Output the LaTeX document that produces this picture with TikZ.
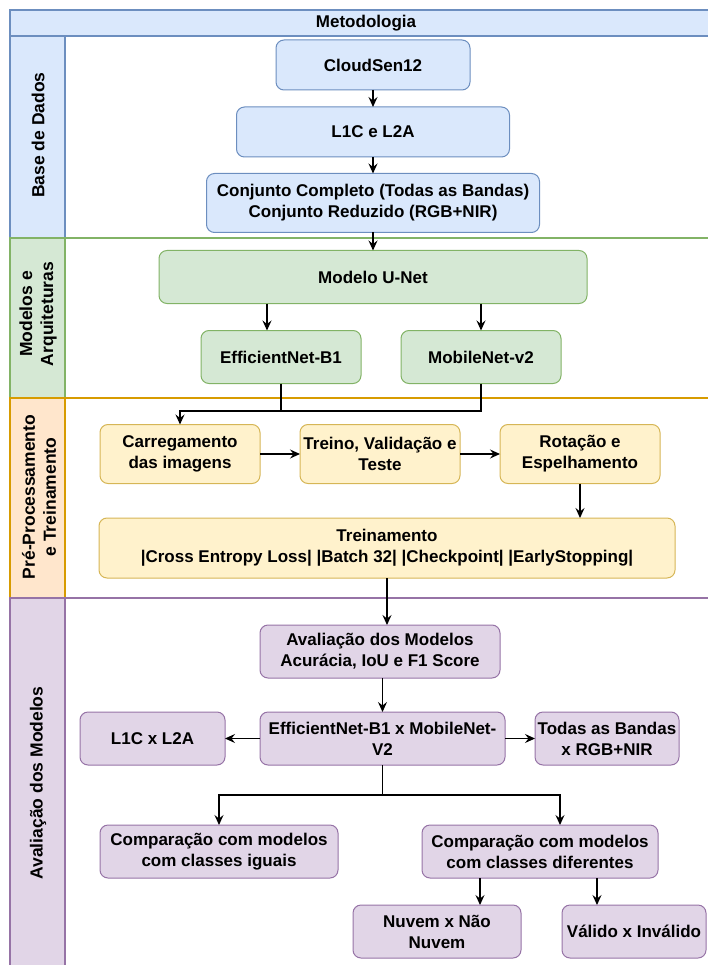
\documentclass[tikz,border=0pt]{standalone}
\usepackage{fontspec}
\setmainfont{Liberation Sans}
\usetikzlibrary{arrows.meta, positioning, calc}
\definecolor{lnblue}{HTML}{DAE8FC}
\definecolor{bdblue}{HTML}{6C8EBF}
\definecolor{lngreen}{HTML}{D5E8D4}
\definecolor{bdgreen}{HTML}{82B366}
\definecolor{lnorange}{HTML}{FFE6CC}
\definecolor{bdorange}{HTML}{D79B00}
\definecolor{bxyellow}{HTML}{FFF2CC}
\definecolor{bdyellow}{HTML}{D6B656}
\definecolor{lnpurple}{HTML}{E1D5E7}
\definecolor{bdpurple}{HTML}{9673A6}

\begin{document}
\begin{tikzpicture}[
    x=1pt, y=-1pt,
    font=\fontsize{17}{21}\selectfont\bfseries,
    box/.style={draw, rounded corners=8pt, line width=1pt, inner sep=0pt,
                outer sep=0pt, align=center},
    blubox/.style={box, fill=lnblue, draw=bdblue},
    grnbox/.style={box, fill=lngreen, draw=bdgreen},
    ylwbox/.style={box, fill=bxyellow, draw=bdyellow},
    prpbox/.style={box, fill=lnpurple, draw=bdpurple},
    lane/.style={line width=1.2pt},
    lanetxt/.style={rotate=90, align=center, font=\fontsize{17.5}{21}\selectfont\bfseries},
    arr/.style={-{Stealth[length=10pt, width=9pt, inset=3.5pt]}, line width=1.2pt}
]
    \useasboundingbox (0,0) rectangle (708,965);

    % lanes
    \draw[lane, draw=bdblue, fill=lnblue] (10,10) rectangle (720,36);
    \node (title) at (366,23) {Metodologia};
    \draw[lane, draw=bdblue] (65,36) rectangle (720,238);
    \draw[lane, draw=bdblue, fill=lnblue] (10,36) rectangle (65,238);
    \draw[lane, draw=bdgreen] (65,238) rectangle (720,398);
    \draw[lane, draw=bdgreen, fill=lngreen] (10,238) rectangle (65,398);
    \draw[lane, draw=bdorange] (65,398) rectangle (720,598);
    \draw[lane, draw=bdorange, fill=lnorange] (10,398) rectangle (65,598);
    \draw[lane, draw=bdpurple] (65,598) rectangle (720,975);
    \draw[lane, draw=bdpurple, fill=lnpurple] (10,598) rectangle (65,975);
    \node[lanetxt] (ldados) at (38,135) {Base de Dados};
    \node[lanetxt] (lmodelos) at (38,314) {Modelos e\\Arquiteturas};
    \node[lanetxt] (lpre) at (39,497) {Pré-Processamento\\e Treinamento};
    \node[lanetxt] (laval) at (38,783) {Avaliação dos Modelos};

    % base de dados
    \node[blubox, minimum width=194, minimum height=50] (cloud) at (373,65) {CloudSen12};
    \node[blubox, minimum width=273, minimum height=50] (l1c) at (373,132) {L1C e L2A};
    \node[blubox, minimum width=333, minimum height=59] (conj) at (373,203)
        {Conjunto Completo (Todas as Bandas)\\Conjunto Reduzido (RGB+NIR)};

    % modelos
    \node[grnbox, minimum width=428, minimum height=53] (unet) at (373,277) {Modelo U-Net};
    \node[grnbox, minimum width=160, minimum height=53] (effb1) at (281,357) {EfficientNet-B1};
    \node[grnbox, minimum width=160, minimum height=53, right=40 of effb1] (mobv2) {MobileNet-v2};

    % pre-processamento
    \node[ylwbox, minimum width=160, minimum height=59] (carreg) at (180,454) {Carregamento\\das imagens};
    \node[ylwbox, minimum width=160, minimum height=59, right=40 of carreg] (treino) {Treino, Validação e\\Teste};
    \node[ylwbox, minimum width=160, minimum height=59, right=40 of treino] (rotac) {Rotação e\\Espelhamento};
    \node[ylwbox, minimum width=576, minimum height=60] (trein) at (387,548)
        {Treinamento\\|Cross Entropy Loss| |Batch 32| |Checkpoint| |EarlyStopping|};

    % avaliacao
    \node[prpbox, minimum width=240, minimum height=53] (aval) at (380,651.5)
        {Avaliação dos Modelos\\Acurácia, IoU e F1 Score};
    \node[prpbox, minimum width=245, minimum height=53] (effmob) at (382.5,738.5)
        {EfficientNet-B1 x MobileNet-\\V2};
    \node[prpbox, minimum width=145, minimum height=53, left=35 of effmob] (l1cl2a) {L1C x L2A};
    \node[prpbox, minimum width=144, minimum height=53, right=30 of effmob] (todas) {Todas as Bandas\\x RGB+NIR};
    \node[prpbox, minimum width=238, minimum height=53] (compig) at (219,851.5)
        {Comparação com modelos\\com classes iguais};
    \node[prpbox, minimum width=236, minimum height=53] (compdif) at (540,851.5)
        {Comparação com modelos\\com classes diferentes};
    \node[prpbox, minimum width=168, minimum height=53] (nuvem) at (437,931.5) {Nuvem x Não\\Nuvem};
    \node[prpbox, minimum width=144, minimum height=53] (valido) at (634,931.5) {Válido x Inválido};

    % connectors
    \draw[arr] (cloud) -- (l1c);
    \draw[arr] (l1c) -- (conj);
    \draw[arr] (conj) -- (unet);
    \draw[arr] (unet.south -| 267,0) -- (effb1.north -| 267,0);
    \draw[arr] (unet.south -| mobv2.north) -- (mobv2.north);
    \coordinate (mrg) at (180,411);
    \draw[line width=1.2pt] (effb1.south) |- (mrg);
    \draw[arr] (mobv2.south) |- (mrg) -- (carreg.north);
    \draw[arr] (carreg) -- (treino);
    \draw[arr] (treino) -- (rotac);
    \draw[arr] (rotac.south) -- (rotac.south |- trein.north);
    \draw[arr] (trein.south) -- (trein.south |- aval.north);
    \draw[arr] (aval.south -| effmob.north) -- (effmob.north);
    \draw[arr] (effmob) -- (l1cl2a);
    \draw[arr] (effmob) -- (todas);
    \coordinate (spl) at (382.5,795);
    \draw[arr] (effmob.south) -- (spl) -| (compig.north);
    \draw[arr] (spl) -| ([xshift=20pt]compdif.north);
    \draw[arr] (compdif.south -| 480,0) -- (nuvem.north -| 480,0);
    \draw[arr] (compdif.south -| 597,0) -- (valido.north -| 597,0);
\end{tikzpicture}
\end{document}
